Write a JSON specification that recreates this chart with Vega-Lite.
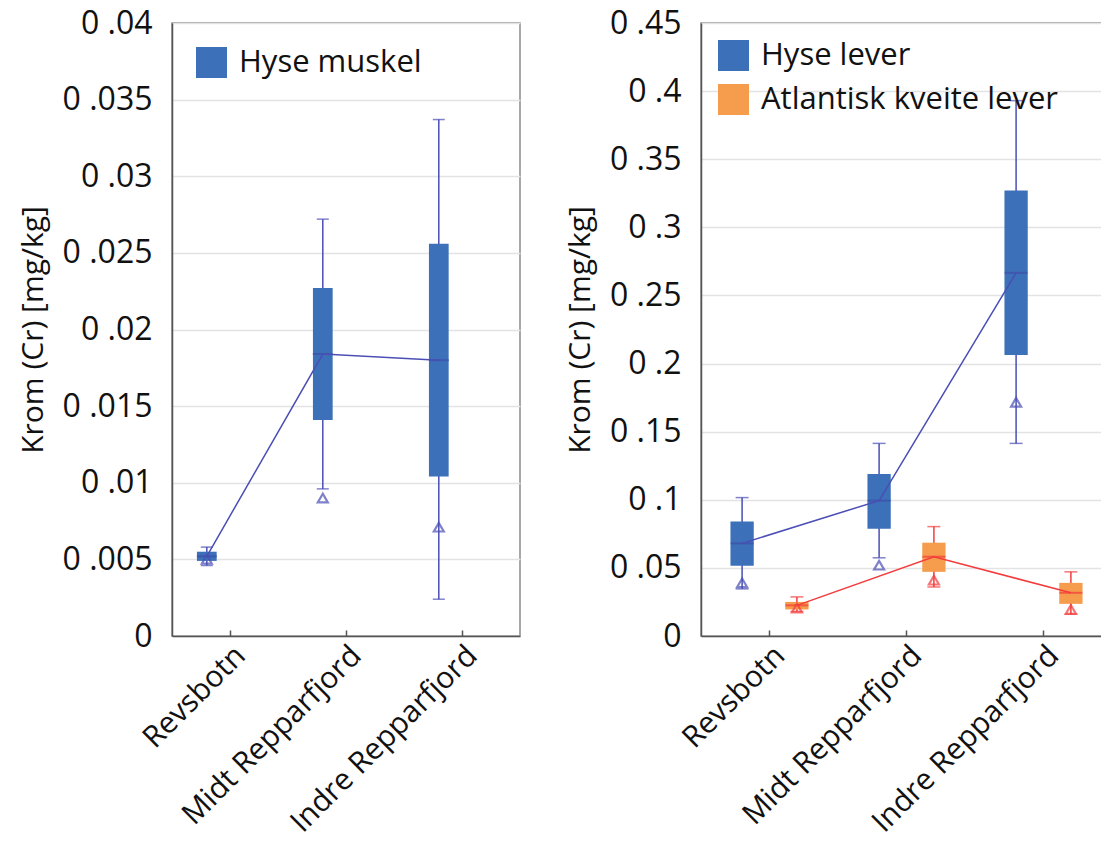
{
  "$schema": "https://vega.github.io/schema/vega-lite/v6.json",
  "background": "white",
  "padding": {"left": 17, "top": 6, "right": 0, "bottom": 0},
  "config": {
    "font": "Open Sans",
    "view": {"stroke": "#8a8a8a", "strokeWidth": 1.5},
    "axis": {"labelFont": "Open Sans", "titleFont": "Open Sans", "labelFontSize": 32, "titleFontSize": 30, "labelColor": "#111", "titleColor": "#111", "titleFontWeight": "normal", "domainColor": "#555", "domainWidth": 1.5, "gridColor": "#e3e3e3", "gridWidth": 1.5, "tickColor": "#555", "tickWidth": 1.5, "labelLimit": 0},
    "legend": {"labelFont": "Open Sans", "labelFontSize": 31, "labelColor": "#111", "symbolType": "square", "symbolSize": 960, "symbolStrokeWidth": 0, "rowPadding": 12, "labelOffset": 12, "labelLimit": 500}
  },
  "data": {"values": [
    {"panel": "L", "site": "Revsbotn", "group": "Hyse muskel", "slot": "a", "lo": 0.0046, "q1": 0.0049, "med": 0.0052, "q3": 0.0055, "hi": 0.0058, "mean": 0.0050},
    {"panel": "L", "site": "Midt Repparfjord", "group": "Hyse muskel", "slot": "a", "lo": 0.0096, "q1": 0.0141, "med": 0.0184, "q3": 0.0227, "hi": 0.0272, "mean": 0.0090},
    {"panel": "L", "site": "Indre Repparfjord", "group": "Hyse muskel", "slot": "a", "lo": 0.0024, "q1": 0.0104, "med": 0.0180, "q3": 0.0256, "hi": 0.0337, "mean": 0.0071},
    {"panel": "R", "site": "Revsbotn", "group": "Hyse lever", "slot": "a", "lo": 0.0346, "q1": 0.0516, "med": 0.068, "q3": 0.084, "hi": 0.1016, "mean": 0.039},
    {"panel": "R", "site": "Midt Repparfjord", "group": "Hyse lever", "slot": "a", "lo": 0.0574, "q1": 0.0788, "med": 0.0994, "q3": 0.119, "hi": 0.1414, "mean": 0.052},
    {"panel": "R", "site": "Indre Repparfjord", "group": "Hyse lever", "slot": "a", "lo": 0.1414, "q1": 0.2062, "med": 0.2666, "q3": 0.327, "hi": 0.393, "mean": 0.1716},
    {"panel": "R", "site": "Revsbotn", "group": "Atlantisk kveite lever", "slot": "b", "lo": 0.018, "q1": 0.0195, "med": 0.0225, "q3": 0.025, "hi": 0.0287, "mean": 0.0205},
    {"panel": "R", "site": "Midt Repparfjord", "group": "Atlantisk kveite lever", "slot": "b", "lo": 0.036, "q1": 0.0471, "med": 0.0582, "q3": 0.0685, "hi": 0.0803, "mean": 0.041},
    {"panel": "R", "site": "Indre Repparfjord", "group": "Atlantisk kveite lever", "slot": "b", "lo": 0.0160, "q1": 0.0236, "med": 0.0317, "q3": 0.039, "hi": 0.0471, "mean": 0.0195}
  ]},
  "spacing": 43,
  "resolve": {"scale": {"x": "independent", "y": "independent", "color": "independent", "xOffset": "independent"}, "legend": {"color": "independent"}},
  "hconcat": [
    {
      "width": 348, "height": 613,
      "transform": [{"filter": "datum.panel == 'L'"}],
      "encoding": {
        "x": {"field": "site", "type": "nominal", "sort": ["Revsbotn", "Midt Repparfjord", "Indre Repparfjord"], "scale": {"paddingInner": 0, "paddingOuter": 0}, "axis": {"title": null, "labelAngle": -45, "labelFontSize": 30, "tickSize": -6, "labelPadding": 10, "grid": false}},
        "xOffset": {"field": "slot", "type": "nominal", "scale": {"domain": ["a", "b"], "paddingInner": 0.575, "paddingOuter": 0.5375}}
      },
      "layer": [
        {"mark": {"type": "rule", "strokeWidth": 1.5, "color": "#4a4eb5"}, "encoding": {
          "y": {"field": "lo", "type": "quantitative", "scale": {"domain": [0, 0.04], "nice": false}, "axis": {"title": "Krom (Cr) [mg/kg]", "values": [0, 0.005, 0.01, 0.015, 0.02, 0.025, 0.03, 0.035, 0.04], "format": "~g", "labelExpr": "replace(datum.label, '0.', '0 .')", "ticks": false, "labelPadding": 20, "titlePadding": 14}},
          "y2": {"field": "hi"}}},
        {"mark": {"type": "bar"}, "encoding": {
          "y": {"field": "q1", "type": "quantitative"}, "y2": {"field": "q3"},
          "color": {"field": "group", "type": "nominal", "scale": {"domain": ["Hyse muskel"], "range": ["#3c70b8"]}, "legend": {"title": null, "orient": "top-left", "offset": 24}}}},
        {"mark": {"type": "tick", "size": 20, "thickness": 2, "color": "#3f4fa8"}, "encoding": {"y": {"field": "med", "type": "quantitative"}}},
        {"mark": {"type": "tick", "size": 12, "thickness": 1.5, "color": "#4a4eb5"}, "encoding": {"y": {"field": "lo", "type": "quantitative"}}},
        {"mark": {"type": "tick", "size": 12, "thickness": 1.5, "color": "#4a4eb5"}, "encoding": {"y": {"field": "hi", "type": "quantitative"}}},
        {"mark": {"type": "point", "shape": "triangle-up", "filled": false, "size": 100, "strokeWidth": 2.2, "color": "#4a4eb5"}, "encoding": {"y": {"field": "mean", "type": "quantitative"}}},
        {"mark": {"type": "line", "strokeWidth": 1.5, "color": "#4a4eb5"}, "encoding": {"y": {"field": "med", "type": "quantitative"}}}
      ]
    },
    {
      "width": 411, "height": 613,
      "transform": [{"filter": "datum.panel == 'R'"}],
      "encoding": {
        "x": {"field": "site", "type": "nominal", "sort": ["Revsbotn", "Midt Repparfjord", "Indre Repparfjord"], "scale": {"paddingInner": 0, "paddingOuter": 0}, "axis": {"title": null, "labelAngle": -45, "labelFontSize": 30, "tickSize": -6, "labelPadding": 10, "grid": false}},
        "xOffset": {"field": "slot", "type": "nominal", "scale": {"domain": ["a", "b"], "paddingInner": 0.575, "paddingOuter": 0.5375}}
      },
      "layer": [
        {"mark": {"type": "rule", "strokeWidth": 1.5}, "encoding": {
          "y": {"field": "lo", "type": "quantitative", "scale": {"domain": [0, 0.45], "nice": false}, "axis": {"title": "Krom (Cr) [mg/kg]", "values": [0, 0.05, 0.1, 0.15, 0.2, 0.25, 0.3, 0.35, 0.4, 0.45], "format": "~g", "labelExpr": "replace(datum.label, '0.', '0 .')", "ticks": false, "labelPadding": 20, "titlePadding": 14}},
          "y2": {"field": "hi"},
          "stroke": {"condition": {"test": "datum.group == 'Hyse lever'", "value": "#4a4eb5"}, "value": "#f43c3c"}}},
        {"mark": {"type": "bar"}, "encoding": {
          "y": {"field": "q1", "type": "quantitative"}, "y2": {"field": "q3"},
          "color": {"field": "group", "type": "nominal", "scale": {"domain": ["Hyse lever", "Atlantisk kveite lever"], "range": ["#3c70b8", "#f59d4c"]}, "legend": {"title": null, "orient": "top-left", "offset": 17}}}},
        {"mark": {"type": "tick", "size": 23, "thickness": 2}, "encoding": {"y": {"field": "med", "type": "quantitative"}, "color": {"condition": {"test": "datum.group == 'Hyse lever'", "value": "#3f4fa8"}, "value": "#f43c3c"}}},
        {"mark": {"type": "tick", "size": 13, "thickness": 1.5}, "encoding": {"y": {"field": "lo", "type": "quantitative"}, "color": {"condition": {"test": "datum.group == 'Hyse lever'", "value": "#4a4eb5"}, "value": "#f43c3c"}}},
        {"mark": {"type": "tick", "size": 13, "thickness": 1.5}, "encoding": {"y": {"field": "hi", "type": "quantitative"}, "color": {"condition": {"test": "datum.group == 'Hyse lever'", "value": "#4a4eb5"}, "value": "#f43c3c"}}},
        {"mark": {"type": "point", "shape": "triangle-up", "filled": false, "size": 100, "strokeWidth": 2.2}, "encoding": {"y": {"field": "mean", "type": "quantitative"}, "color": {"condition": {"test": "datum.group == 'Hyse lever'", "value": "#4a4eb5"}, "value": "#f43c3c"}}},
        {"mark": {"type": "line", "strokeWidth": 1.5, "color": "#4a4eb5"}, "transform": [{"filter": "datum.group == 'Hyse lever'"}], "encoding": {"y": {"field": "med", "type": "quantitative"}}},
        {"mark": {"type": "line", "strokeWidth": 1.5, "color": "#f43c3c"}, "transform": [{"filter": "datum.group == 'Atlantisk kveite lever'"}], "encoding": {"y": {"field": "med", "type": "quantitative"}}}
      ]
    }
  ]
}
